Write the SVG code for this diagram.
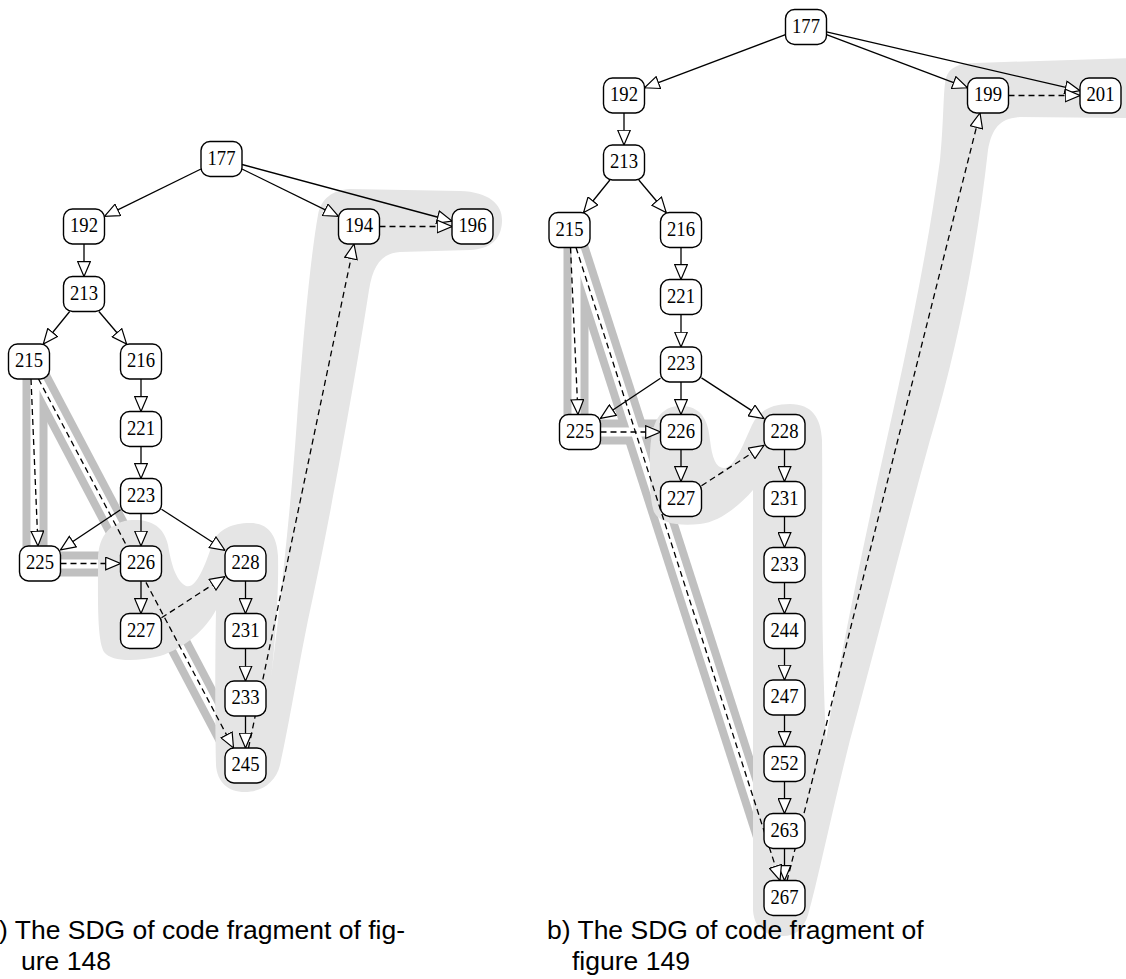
<svg xmlns="http://www.w3.org/2000/svg" width="1126" height="979" viewBox="0 0 1126 979">
<style>
.n rect{fill:#fff;stroke:#000;stroke-width:1.4}
.n text{font-family:"Liberation Serif",serif;font-size:21px;text-anchor:middle;fill:#000}
.e{stroke:#000;stroke-width:1.3;fill:none;marker-end:url(#ah)}
.d{stroke:#000;stroke-width:1.3;fill:none;stroke-dasharray:6 4;marker-end:url(#ah)}
.bg{stroke:#c0c0c0;stroke-width:25;fill:none}
.bw{stroke:#fff;stroke-width:9;fill:none}
.hl{fill:#e5e5e5;stroke:none}
.cap{font-family:"Liberation Sans",Arial,sans-serif;font-size:26.5px;fill:#000}
</style>
<defs>
<marker id="ah" viewBox="0 0 16 14" markerWidth="16" markerHeight="14" refX="15.5" refY="7" orient="auto" markerUnits="userSpaceOnUse">
<path d="M0.7,0.7 L15.5,7 L0.7,13.3 Z" fill="#fff" stroke="#000" stroke-width="1.2" stroke-dasharray="none"/>
</marker>
</defs>
<rect width="1126" height="979" fill="#fff"/>

<g id="highlights">
<g id="slice-bands">
<line class="bg" x1="35" y1="379" x2="35" y2="548"/>
<line class="bg" x1="55" y1="564" x2="110" y2="564"/>
<line class="bg" x1="38.5" y1="379" x2="233" y2="748"/>
<line class="bg" x1="576" y1="248" x2="576" y2="420"/>
<line class="bg" x1="595" y1="432" x2="660" y2="432"/>
<line class="bg" x1="576" y1="248" x2="780" y2="881"/>
<line class="bw" x1="35" y1="379" x2="35" y2="548"/>
<line class="bw" x1="55" y1="564" x2="110" y2="564"/>
<line class="bw" x1="38.5" y1="379" x2="233" y2="748"/>
<line class="bw" x1="576" y1="248" x2="576" y2="420"/>
<line class="bw" x1="595" y1="432" x2="660" y2="432"/>
<line class="bw" x1="576" y1="248" x2="780" y2="881"/>
</g>
<path class="hl" d="M98,560 C98,535 112,521 132,520 C150,519 164,526 168,545 C171,562 175,580 186,586 C197,590 207,560 213,542 C218,530 232,523 250,523 C268,523 277,535 278,556 C279,600 274,660 268,703 C276,640 290,520 297,420 C303,340 310,260 318,215 C321,199 332,190 350,189 L460,191 C490,192 503,205 502,222 C501,240 490,249 470,250 L400,252 C382,253 373,265 369,290 C355,380 330,520 308,620 C296,680 288,730 280,765 C276,782 262,792 245,792 C228,792 217,782 216,765 C215,720 215,660 216,610 C205,630 185,648 160,656 C135,662 112,662 104,652 C97,640 98,600 98,560 Z"/>
<path class="hl" d="M650,470 C649,430 655,408 678,406 C700,405 708,418 710,440 C712,458 716,468 724,468 C735,468 745,440 752,425 C758,412 770,404 790,404 C812,404 821,418 822,440 C823,520 820,600 826,740 C840,660 860,560 880,470 C900,380 925,270 940,160 C944,120 943,90 946,78 C949,67 960,63 975,63 L1130,58 L1130,118 L1020,117 C1000,118 992,128 988,150 C978,240 960,340 930,440 C905,530 880,630 850,740 C830,820 818,880 808,915 C803,930 795,936 783,936 C765,936 754,928 753,910 L753,490 C740,505 720,522 700,524 C680,526 660,524 654,512 C650,500 650,485 650,470 Z"/>
</g>

<g id="connectors">
<line class="e" x1="201" y1="169" x2="104.5" y2="216.4"/>
<line class="e" x1="242" y1="169" x2="338.5" y2="216.4"/>
<line class="e" x1="242" y1="164.5" x2="452" y2="221"/>
<line class="e" x1="84" y1="244" x2="84" y2="276.5"/>
<line class="e" x1="69.7" y1="311.5" x2="43.3" y2="344"/>
<line class="e" x1="98.9" y1="311.5" x2="126.6" y2="344"/>
<line class="e" x1="141" y1="379" x2="141" y2="411.5"/>
<line class="e" x1="141" y1="446.5" x2="141" y2="478.5"/>
<line class="e" x1="120.5" y1="509.7" x2="60.5" y2="549.8"/>
<line class="e" x1="141" y1="513.5" x2="141" y2="546"/>
<line class="e" x1="161.5" y1="509.2" x2="225" y2="550.3"/>
<line class="e" x1="141" y1="581" x2="141" y2="613.5"/>
<line class="e" x1="245.5" y1="581" x2="245.5" y2="613.5"/>
<line class="e" x1="245.5" y1="648.5" x2="245.5" y2="681"/>
<line class="e" x1="245.5" y1="716" x2="245.5" y2="748"/>
<line class="d" x1="379.5" y1="226.5" x2="452" y2="226.5"/>
<line class="d" x1="248.5" y1="748" x2="354" y2="244"/>
<line class="d" x1="31" y1="379" x2="38" y2="546"/>
<line class="d" x1="38.5" y1="379" x2="233.5" y2="748"/>
<line class="d" x1="60.5" y1="563.5" x2="120.5" y2="563.5"/>
<line class="d" x1="161.5" y1="617.8" x2="225" y2="576.7"/>

<line class="e" x1="785.5" y1="34.7" x2="644.5" y2="87.8"/>
<line class="e" x1="826.5" y1="34.7" x2="967.5" y2="87.8"/>
<line class="e" x1="826.5" y1="31.8" x2="1080" y2="90.7"/>
<line class="e" x1="624" y1="113" x2="624" y2="145"/>
<line class="e" x1="609.9" y1="180" x2="583.6" y2="212.5"/>
<line class="e" x1="638.8" y1="180" x2="666.2" y2="212.5"/>
<line class="e" x1="681" y1="247.5" x2="681" y2="279.5"/>
<line class="e" x1="681" y1="314.5" x2="681" y2="347"/>
<line class="e" x1="660.5" y1="378.2" x2="600.5" y2="418.3"/>
<line class="e" x1="681" y1="382" x2="681" y2="414.5"/>
<line class="e" x1="701.5" y1="377.9" x2="764" y2="418.6"/>
<line class="e" x1="681" y1="449.5" x2="681" y2="481.5"/>
<line class="e" x1="784.5" y1="449.5" x2="784.5" y2="481.5"/>
<line class="e" x1="784.5" y1="516.5" x2="784.5" y2="547.5"/>
<line class="e" x1="784.5" y1="582.5" x2="784.5" y2="613.5"/>
<line class="e" x1="784.5" y1="648.5" x2="784.5" y2="680"/>
<line class="e" x1="784.5" y1="715" x2="784.5" y2="746.5"/>
<line class="e" x1="784.5" y1="781.5" x2="784.5" y2="813.5"/>
<line class="e" x1="784.5" y1="848.5" x2="784.5" y2="880.5"/>
<line class="d" x1="1008.5" y1="95.5" x2="1080" y2="95.5"/>
<line class="d" x1="787" y1="881" x2="980" y2="113"/>
<line class="d" x1="570.5" y1="247.5" x2="578" y2="414.5"/>
<line class="d" x1="576" y1="247.5" x2="780" y2="880.5"/>
<line class="d" x1="600.5" y1="432" x2="660.5" y2="432"/>
<line class="d" x1="701.5" y1="485.7" x2="764" y2="445.3"/>
</g>

<g id="a-177" class="n"><rect x="201" y="141.5" width="41" height="35" rx="9"/><text x="221.5" y="164.5" textLength="28" lengthAdjust="spacingAndGlyphs">177</text></g>
<g id="a-192" class="n"><rect x="63.5" y="209" width="41" height="35" rx="9"/><text x="84" y="232" textLength="28" lengthAdjust="spacingAndGlyphs">192</text></g>
<g id="a-194" class="n"><rect x="338.5" y="209" width="41" height="35" rx="9"/><text x="359" y="232" textLength="28" lengthAdjust="spacingAndGlyphs">194</text></g>
<g id="a-196" class="n"><rect x="452" y="209" width="41" height="35" rx="9"/><text x="472.5" y="232" textLength="28" lengthAdjust="spacingAndGlyphs">196</text></g>
<g id="a-213" class="n"><rect x="63.5" y="276.5" width="41" height="35" rx="9"/><text x="84" y="299.5" textLength="28" lengthAdjust="spacingAndGlyphs">213</text></g>
<g id="a-215" class="n"><rect x="8.5" y="344" width="41" height="35" rx="9"/><text x="29" y="367" textLength="28" lengthAdjust="spacingAndGlyphs">215</text></g>
<g id="a-216" class="n"><rect x="120.5" y="344" width="41" height="35" rx="9"/><text x="141" y="367" textLength="28" lengthAdjust="spacingAndGlyphs">216</text></g>
<g id="a-221" class="n"><rect x="120.5" y="411.5" width="41" height="35" rx="9"/><text x="141" y="434.5" textLength="28" lengthAdjust="spacingAndGlyphs">221</text></g>
<g id="a-223" class="n"><rect x="120.5" y="478.5" width="41" height="35" rx="9"/><text x="141" y="501.5" textLength="28" lengthAdjust="spacingAndGlyphs">223</text></g>
<g id="a-225" class="n"><rect x="19.5" y="546" width="41" height="35" rx="9"/><text x="40" y="569" textLength="28" lengthAdjust="spacingAndGlyphs">225</text></g>
<g id="a-226" class="n"><rect x="120.5" y="546" width="41" height="35" rx="9"/><text x="141" y="569" textLength="28" lengthAdjust="spacingAndGlyphs">226</text></g>
<g id="a-228" class="n"><rect x="225" y="546" width="41" height="35" rx="9"/><text x="245.5" y="569" textLength="28" lengthAdjust="spacingAndGlyphs">228</text></g>
<g id="a-227" class="n"><rect x="120.5" y="613.5" width="41" height="35" rx="9"/><text x="141" y="636.5" textLength="28" lengthAdjust="spacingAndGlyphs">227</text></g>
<g id="a-231" class="n"><rect x="225" y="613.5" width="41" height="35" rx="9"/><text x="245.5" y="636.5" textLength="28" lengthAdjust="spacingAndGlyphs">231</text></g>
<g id="a-233" class="n"><rect x="225" y="681" width="41" height="35" rx="9"/><text x="245.5" y="704" textLength="28" lengthAdjust="spacingAndGlyphs">233</text></g>
<g id="a-245" class="n"><rect x="225" y="748" width="41" height="35" rx="9"/><text x="245.5" y="771" textLength="28" lengthAdjust="spacingAndGlyphs">245</text></g>

<g id="b-177" class="n"><rect x="785.5" y="9.5" width="41" height="35" rx="9"/><text x="806" y="32.5" textLength="28" lengthAdjust="spacingAndGlyphs">177</text></g>
<g id="b-192" class="n"><rect x="603.5" y="78" width="41" height="35" rx="9"/><text x="624" y="101" textLength="28" lengthAdjust="spacingAndGlyphs">192</text></g>
<g id="b-199" class="n"><rect x="967.5" y="78" width="41" height="35" rx="9"/><text x="988" y="101" textLength="28" lengthAdjust="spacingAndGlyphs">199</text></g>
<g id="b-201" class="n"><rect x="1080" y="78" width="41" height="35" rx="9"/><text x="1100.5" y="101" textLength="28" lengthAdjust="spacingAndGlyphs">201</text></g>
<g id="b-213" class="n"><rect x="603.5" y="145" width="41" height="35" rx="9"/><text x="624" y="168" textLength="28" lengthAdjust="spacingAndGlyphs">213</text></g>
<g id="b-215" class="n"><rect x="549" y="212.5" width="41" height="35" rx="9"/><text x="569.5" y="235.5" textLength="28" lengthAdjust="spacingAndGlyphs">215</text></g>
<g id="b-216" class="n"><rect x="660.5" y="212.5" width="41" height="35" rx="9"/><text x="681" y="235.5" textLength="28" lengthAdjust="spacingAndGlyphs">216</text></g>
<g id="b-221" class="n"><rect x="660.5" y="279.5" width="41" height="35" rx="9"/><text x="681" y="302.5" textLength="28" lengthAdjust="spacingAndGlyphs">221</text></g>
<g id="b-223" class="n"><rect x="660.5" y="347" width="41" height="35" rx="9"/><text x="681" y="370" textLength="28" lengthAdjust="spacingAndGlyphs">223</text></g>
<g id="b-225" class="n"><rect x="559.5" y="414.5" width="41" height="35" rx="9"/><text x="580" y="437.5" textLength="28" lengthAdjust="spacingAndGlyphs">225</text></g>
<g id="b-226" class="n"><rect x="660.5" y="414.5" width="41" height="35" rx="9"/><text x="681" y="437.5" textLength="28" lengthAdjust="spacingAndGlyphs">226</text></g>
<g id="b-228" class="n"><rect x="764" y="414.5" width="41" height="35" rx="9"/><text x="784.5" y="437.5" textLength="28" lengthAdjust="spacingAndGlyphs">228</text></g>
<g id="b-227" class="n"><rect x="660.5" y="481.5" width="41" height="35" rx="9"/><text x="681" y="504.5" textLength="28" lengthAdjust="spacingAndGlyphs">227</text></g>
<g id="b-231" class="n"><rect x="764" y="481.5" width="41" height="35" rx="9"/><text x="784.5" y="504.5" textLength="28" lengthAdjust="spacingAndGlyphs">231</text></g>
<g id="b-233" class="n"><rect x="764" y="547.5" width="41" height="35" rx="9"/><text x="784.5" y="570.5" textLength="28" lengthAdjust="spacingAndGlyphs">233</text></g>
<g id="b-244" class="n"><rect x="764" y="613.5" width="41" height="35" rx="9"/><text x="784.5" y="636.5" textLength="28" lengthAdjust="spacingAndGlyphs">244</text></g>
<g id="b-247" class="n"><rect x="764" y="680" width="41" height="35" rx="9"/><text x="784.5" y="703" textLength="28" lengthAdjust="spacingAndGlyphs">247</text></g>
<g id="b-252" class="n"><rect x="764" y="746.5" width="41" height="35" rx="9"/><text x="784.5" y="769.5" textLength="28" lengthAdjust="spacingAndGlyphs">252</text></g>
<g id="b-263" class="n"><rect x="764" y="813.5" width="41" height="35" rx="9"/><text x="784.5" y="836.5" textLength="28" lengthAdjust="spacingAndGlyphs">263</text></g>
<g id="b-267" class="n"><rect x="764" y="880.5" width="41" height="35" rx="9"/><text x="784.5" y="903.5" textLength="28" lengthAdjust="spacingAndGlyphs">267</text></g>

<g id="captions">
<text class="cap" x="-1" y="939">) The SDG of code fragment of fig-</text>
<text class="cap" x="21" y="970">ure 148</text>
<text class="cap" x="547" y="939">b) The SDG of code fragment of</text>
<text class="cap" x="572" y="970">figure 149</text>
</g>
</svg>
